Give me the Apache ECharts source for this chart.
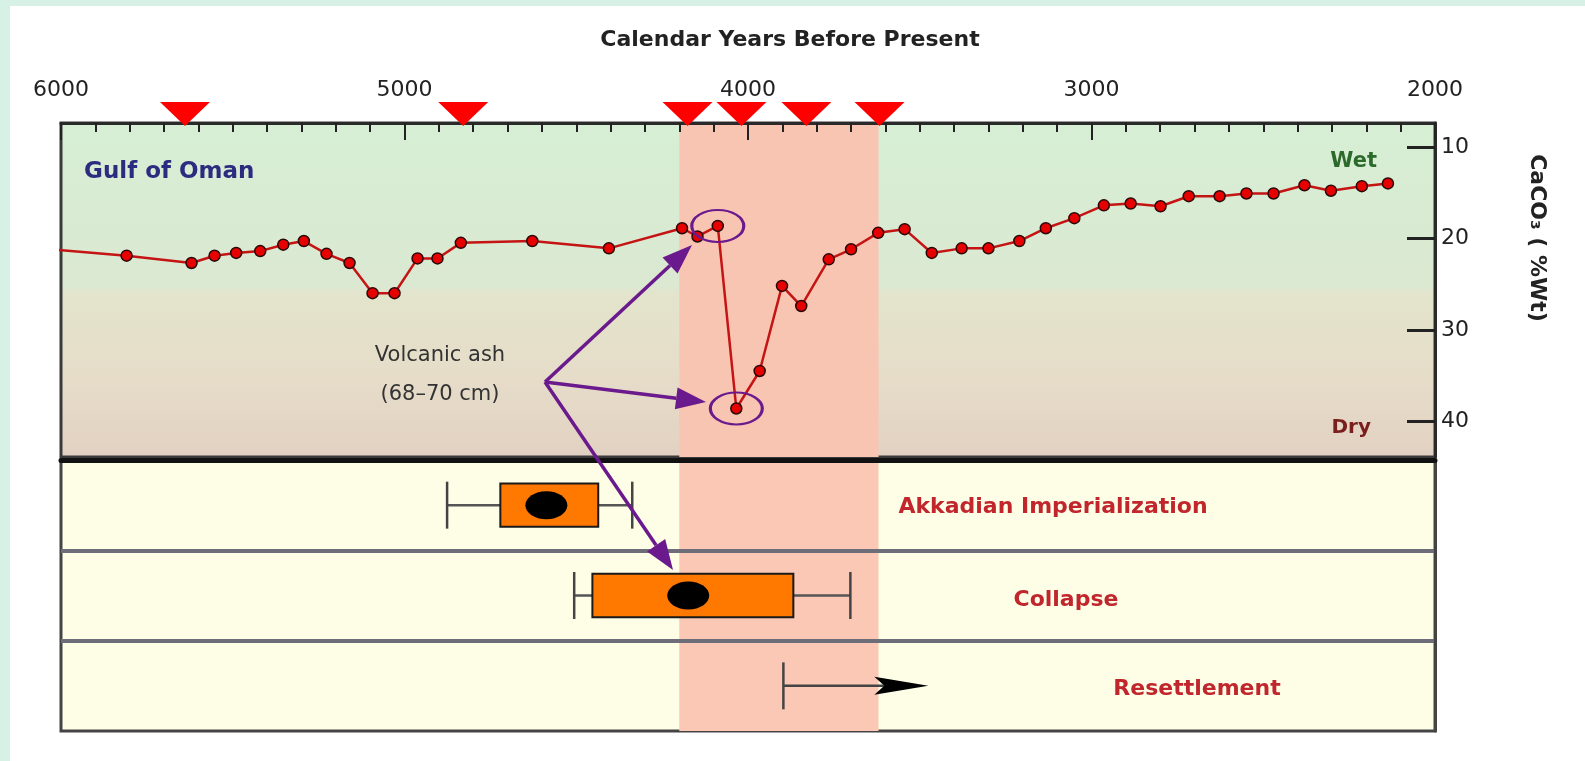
<!DOCTYPE html>
<html>
<head>
<meta charset="utf-8">
<title>Gulf of Oman CaCO3</title>
<script src="https://cdn.jsdelivr.net/npm/echarts@6/dist/echarts.min.js"></script>
<style>
  html, body { margin: 0; padding: 0; background: #fff; }
  #main { width: 1585px; height: 761px; }
</style>
</head>
<body>
<div id="main"></div>
<script>
// calendar years BP of the core samples and their carbonate content
var calYears = [6100, 5809, 5620, 5553, 5490, 5420, 5353, 5293, 5227, 5160, 5093, 5029, 4962, 4904, 4836,
    4628, 4405, 4192, 4147, 4088, 4034, 3966, 3901, 3845, 3765, 3700, 3621, 3544, 3465, 3378, 3300,
    3210, 3133, 3050, 2964, 2886, 2799, 2717, 2627, 2549, 2470, 2380, 2303, 2213, 2137];
var caco3 = [21.0, 21.9, 22.7, 21.9, 21.6, 21.4, 20.7, 20.3, 21.7, 22.7, 26.0, 26.0, 22.2, 22.2, 20.5,
    20.3, 21.1, 18.9, 19.8, 18.65, 38.6, 34.5, 25.2, 27.4, 22.3, 21.2, 19.4, 19.0, 21.6, 21.1, 21.1,
    20.3, 18.9, 17.8, 16.4, 16.2, 16.5, 15.4, 15.4, 15.1, 15.1, 14.2, 14.8, 14.3, 14.0];
// samples circled as volcanic ash
var ashIndex = [19, 20];
// radiocarbon dates (red triangles)
var dateYears = [5639, 4829, 4176, 4019, 3830, 3617];
// shaded interval
var bandStart = 4200;
var bandEnd = 3620;
// x axis / y axis ticks
var yearTicks = [6000, 5000, 4000, 3000, 2000];
var caco3Ticks = [10, 20, 30, 40];
// archaeological events
var eventNames = ['Akkadian Imperialization', 'Collapse', 'Resettlement'];
var whiskerStart = [4876, 4506, 3897];
var boxStart = [4721, 4453, null];
var midYear = [4587, 4174, null];
var boxEnd = [4436, 3868, null];
var whiskerEnd = [4337, 3702, 3475];

var FONT = "'DejaVu Sans', sans-serif";
var PURPLE = '#6a1a8c';

var myChart = echarts.init(document.getElementById('main'));

var lineData = [];
for (var i = 0; i < calYears.length; i++) {
    lineData.push([calYears[i], caco3[i]]);
}
var ashData = ashIndex.map(function (k) { return [calYears[k], caco3[k]]; });
var dateData = dateYears.map(function (y) { return [y, 0.5]; });
var eventData = eventNames.map(function (n, k) {
    return [k, whiskerStart[k], boxStart[k], midYear[k], boxEnd[k], whiskerEnd[k]];
});

var renderEvent = function (params, api) {
    var row = api.value(0) + 0.5;
    var rowH = api.size([0, 1])[1];
    var capH = rowH * 0.26, boxH = rowH * 0.24;
    var s = api.coord([api.value(1), row]);
    var e = api.coord([api.value(5), row]);
    var cy = s[1];
    var kids = [];
    var hasBox = !isNaN(api.value(2)) && api.value(2) != null;
    if (hasBox) {
        kids.push({type: 'line', shape: {x1: s[0], y1: cy, x2: e[0], y2: cy},
            style: {stroke: '#555', lineWidth: 2.5}});
        kids.push({type: 'line', shape: {x1: s[0], y1: cy - capH, x2: s[0], y2: cy + capH},
            style: {stroke: '#444', lineWidth: 2.5}});
        kids.push({type: 'line', shape: {x1: e[0], y1: cy - capH, x2: e[0], y2: cy + capH},
            style: {stroke: '#444', lineWidth: 2.5}});
        var b0 = api.coord([api.value(2), row]);
        var b1 = api.coord([api.value(4), row]);
        var m = api.coord([api.value(3), row]);
        kids.push({type: 'rect', shape: {x: b0[0], y: cy - boxH, width: b1[0] - b0[0], height: boxH * 2},
            style: {fill: '#ff7800', stroke: '#1a1a1a', lineWidth: 2}});
        kids.push({type: 'ellipse', shape: {cx: m[0], cy: cy, rx: 21, ry: 14},
            style: {fill: '#000'}});
    } else {
        kids.push({type: 'line', shape: {x1: s[0], y1: cy - capH, x2: s[0], y2: cy + capH},
            style: {stroke: '#444', lineWidth: 2.5}});
        kids.push({type: 'line', shape: {x1: s[0], y1: cy, x2: e[0] - 44, y2: cy},
            style: {stroke: '#444', lineWidth: 2.5}});
        kids.push({type: 'polygon', shape: {points: [[e[0], cy], [e[0] - 54, cy - 9], [e[0] - 44, cy], [e[0] - 54, cy + 9]]},
            style: {fill: '#000'}});
    }
    return {type: 'group', children: kids};
};

var purpleArrow = function (x1, y1, x2, y2) {
    var ang = Math.atan2(y2 - y1, x2 - x1);
    var hl = 30, hw = 11;
    var bx = x2 - hl * Math.cos(ang), by = y2 - hl * Math.sin(ang);
    var px = -Math.sin(ang) * hw, py = Math.cos(ang) * hw;
    return [
        {type: 'line', z: 20, shape: {x1: x1, y1: y1, x2: bx, y2: by}, style: {stroke: PURPLE, lineWidth: 3.5}},
        {type: 'polygon', z: 20, shape: {points: [[x2, y2], [bx + px, by + py], [bx - px, by - py]]}, style: {fill: PURPLE}}
    ];
};

var txt = function (text, x, y, font, fill, align) {
    return {type: 'text', z: 20, x: x, y: y,
        style: {text: text, font: font, fill: fill, align: align || 'center', verticalAlign: 'middle',
            textAlign: align || 'center', textVerticalAlign: 'middle'}};
};

var graphics = [
    {type: 'rect', z: -10, shape: {x: 0, y: 0, width: 10, height: 761}, style: {fill: '#d8f1e6'}},
    {type: 'rect', z: -10, shape: {x: 0, y: 0, width: 1585, height: 6}, style: {fill: '#d8f1e6'}},
    txt('Calendar Years Before Present', 790, 40, 'bold 22px ' + FONT, '#222'),
    txt('Gulf of Oman', 84, 172, 'bold 23px ' + FONT, '#2b2b80', 'left'),
    txt('Wet', 1377, 162, 'bold 21px ' + FONT, '#2c6a2c', 'right'),
    txt('Dry', 1371, 428, 'bold 20px ' + FONT, '#7a1e1e', 'right'),
    txt('Volcanic ash', 440, 356, '21px ' + FONT, '#333'),
    txt('(68\u201370 cm)', 440, 395, '21px ' + FONT, '#333'),
    {type: 'text', z: 20, x: 1537, y: 238, rotation: -Math.PI / 2,
        style: {text: 'CaCO\u2083 ( %Wt)', font: 'bold 22px ' + FONT, fill: '#222',
            align: 'center', verticalAlign: 'middle', textAlign: 'center', textVerticalAlign: 'middle'}},
    txt(eventNames[0], 1053, 507, 'bold 22px ' + FONT, '#c0262c'),
    txt(eventNames[1], 1066, 600, 'bold 22px ' + FONT, '#c0262c'),
    txt(eventNames[2], 1197, 689, 'bold 22px ' + FONT, '#c0262c')
];
graphics = graphics.concat(purpleArrow(545, 382, 692, 245));
graphics = graphics.concat(purpleArrow(545, 382, 706, 402));
graphics = graphics.concat(purpleArrow(545, 382, 673, 570));

var yearAxis = function (grid, extra) {
    var ax = {
        gridIndex: grid, type: 'value', min: 2000, max: 6000, inverse: true, interval: 1000,
        position: 'top', splitLine: {show: false}, axisLabel: {show: false},
        axisTick: {show: false}, axisLine: {show: false}
    };
    for (var k in extra) ax[k] = extra[k];
    return ax;
};

option = {
    backgroundColor: '#ffffff',
    animation: false,
    grid: [
        {left: 61, top: 123, width: 1374, height: 334, show: true, borderColor: '#3a3a3a', borderWidth: 3,
            backgroundColor: {type: 'linear', x: 0, y: 0, x2: 0, y2: 1, colorStops: [
                {offset: 0, color: '#d6efd4'}, {offset: 0.49, color: '#dbe8d2'},
                {offset: 0.51, color: '#e3e4cc'}, {offset: 0.75, color: '#e6ddc9'},
                {offset: 1, color: '#e2d1c2'}]}},
        {left: 61, top: 460, width: 1374, height: 271, show: true, borderColor: '#444', borderWidth: 3,
            backgroundColor: '#fefee7'},
        {left: 61, top: 102, width: 1374, height: 24}
    ],
    xAxis: [
        yearAxis(0, {
            z: 5,
            axisLine: {show: true, lineStyle: {color: '#2a2a2a', width: 3}},
            axisTick: {show: true, inside: true, length: 17, lineStyle: {color: '#222', width: 2}},
            minorTick: {show: true, splitNumber: 10, length: 9, lineStyle: {color: '#222', width: 2}},
            axisLabel: {show: true, fontSize: 22, color: '#222', fontFamily: FONT, margin: 22,
                showMinLabel: true, showMaxLabel: true, customValues: yearTicks,
                formatter: function (v) { return String(v); }}
        }),
        yearAxis(1, {z: 5, axisLine: {show: true, lineStyle: {color: '#111', width: 5}}}),
        yearAxis(2, {show: false})
    ],
    yAxis: [
        {gridIndex: 0, type: 'value', min: 7.4, max: 43.9, inverse: true, position: 'right',
            splitLine: {show: false},
            axisLine: {show: true, lineStyle: {color: '#2a2a2a', width: 3}},
            axisTick: {show: true, inside: true, length: 28, customValues: caco3Ticks,
                lineStyle: {color: '#222', width: 3}},
            axisLabel: {show: true, customValues: caco3Ticks, fontSize: 22, color: '#222',
                fontFamily: FONT, margin: 6}},
        {gridIndex: 1, type: 'value', min: 0, max: 3, interval: 1, inverse: true, position: 'right', z: 5,
            axisLine: {show: true, lineStyle: {color: '#444', width: 3}},
            axisTick: {show: false}, axisLabel: {show: false},
            splitLine: {show: true, showMinLine: false, showMaxLine: false,
                lineStyle: {color: '#6d6d79', width: 4}}},
        {gridIndex: 2, type: 'value', min: 0, max: 1, show: false}
    ],
    graphic: graphics,
    series: [
        {
            name: 'band', type: 'line', xAxisIndex: 0, yAxisIndex: 0, data: [], z: 1, silent: true,
            markArea: {silent: true, itemStyle: {color: '#f9c5b3', opacity: 1},
                data: [[{xAxis: bandStart}, {xAxis: bandEnd}]]}
        },
        {
            name: 'band2', type: 'line', xAxisIndex: 1, yAxisIndex: 1, data: [], z: 1, silent: true,
            markArea: {silent: true, itemStyle: {color: '#fbc8b6', opacity: 1},
                data: [[{xAxis: bandStart}, {xAxis: bandEnd}]]}
        },
        {
            name: 'CaCO3', type: 'line', xAxisIndex: 0, yAxisIndex: 0, data: lineData, z: 3, clip: true,
            symbol: 'circle', symbolSize: 11,
            lineStyle: {color: '#c41414', width: 2.5},
            itemStyle: {color: '#e60000', borderColor: '#2a0808', borderWidth: 1.5}
        },
        {
            name: 'ash', type: 'scatter', xAxisIndex: 0, yAxisIndex: 0, data: ashData, z: 4,
            symbol: 'circle', symbolSize: [52, 32],
            itemStyle: {color: 'rgba(0,0,0,0)', borderColor: PURPLE, borderWidth: 2.5, opacity: 1}
        },
        {
            name: 'dates', type: 'scatter', xAxisIndex: 2, yAxisIndex: 2, data: dateData, z: 6, clip: false,
            symbol: 'triangle', symbolRotate: 180, symbolSize: [50, 24],
            itemStyle: {color: '#ff0000', opacity: 1}
        },
        {
            name: 'events', type: 'custom', xAxisIndex: 1, yAxisIndex: 1, data: eventData, z: 4,
            renderItem: renderEvent, encode: {x: [1, 5], y: 0}
        }
    ]
};
myChart.setOption(option);
</script>
</body>
</html>
